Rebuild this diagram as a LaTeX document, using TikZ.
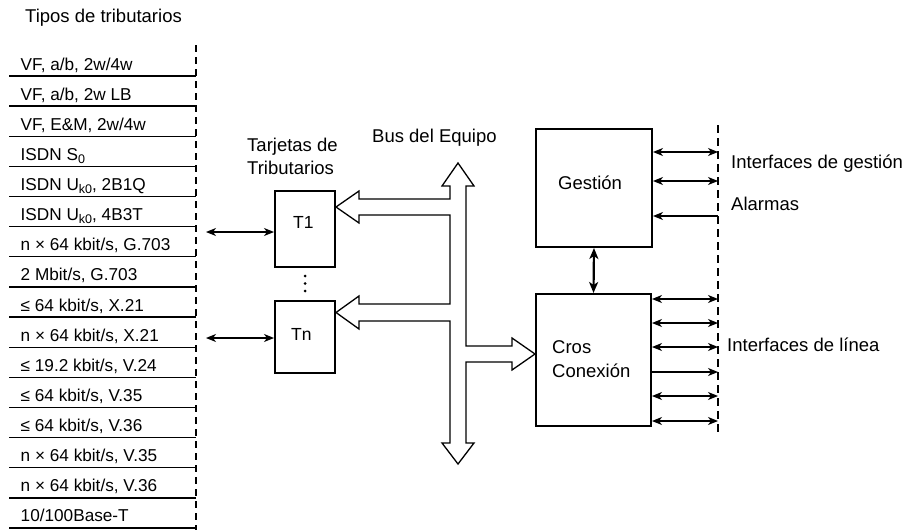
\documentclass[tikz,border=0pt]{standalone}
\usepackage{fontspec}
\setmainfont{Liberation Sans}
\usetikzlibrary{arrows.meta}
\newcommand{\mysubs}[1]{\raisebox{-3.2pt}{\fontsize{12.5}{12}\selectfont #1}}
\begin{document}
\begin{tikzpicture}[x=1pt,y=-1pt,
  row/.style={anchor=base west, inner sep=0pt, font=\fontsize{17.2}{19}\selectfont},
  lbl/.style={anchor=base west, inner sep=0pt, font=\fontsize{18.5}{22}\selectfont},
  boxn/.style={draw, line width=2pt, inner sep=0pt, fill=white},
  sepline/.style={line width=1.3pt},
  dashv/.style={line width=1.3pt, dash pattern=on 7pt off 5pt},
  conn/.style={line width=1.2pt, {Stealth[length=10pt,width=8pt,inset=3pt]}-{Stealth[length=10pt,width=8pt,inset=3pt]}},
  connr/.style={line width=1.2pt, -{Stealth[length=10pt,width=8pt,inset=3pt]}},
  thickconn/.style={line width=2.2pt, {Stealth[length=11pt,width=9pt,inset=3pt]}-{Stealth[length=11pt,width=9pt,inset=3pt]}},
  busline/.style={line width=1.3pt, fill=white, line join=miter}
]
\useasboundingbox (0,0) rectangle (911,530);
\fill[white] (0,0) rectangle (911,530);

% title
\node[lbl] (title) at (25,22) {Tipos de tributarios};

% left list
\coordinate (dltop) at (196,45);
\coordinate (dlbot) at (196,530);
\draw[dashv] (dltop) -- (dlbot);
\foreach \i/\t in {0/{VF, a/b, 2w/4w},
                   1/{VF, a/b, 2w LB},
                   2/{VF, E\&M, 2w/4w},
                   3/{ISDN S\mysubs{0}},
                   4/{ISDN U\mysubs{k0}, 2B1Q},
                   5/{ISDN U\mysubs{k0}, 4B3T},
                   6/{n × 64 kbit/s, G.703},
                   7/{2 Mbit/s, G.703},
                   8/{≤ 64 kbit/s, X.21},
                   9/{n × 64 kbit/s, X.21},
                   10/{≤ 19.2 kbit/s, V.24},
                   11/{≤ 64 kbit/s, V.35},
                   12/{≤ 64 kbit/s, V.36},
                   13/{n × 64 kbit/s, V.35},
                   14/{n × 64 kbit/s, V.36},
                   15/{10/100Base-T}}{
  \pgfmathsetmacro{\yy}{76+30.133*\i}
  \node[row] (r\i) at (20.5,\yy-6) {\t};
  \coordinate (ls\i) at (9,\yy);
  \draw[sepline] (ls\i) -- (ls\i -| dltop);
}

% tributary cards
\node[lbl] (tar1) at (247,151) {Tarjetas de};
\node[lbl] (tar2) at (247,174) {Tributarios};
\node[boxn, minimum width=60pt, minimum height=76pt] (T1) at (305,229) {};
\node[boxn, minimum width=60pt, minimum height=72pt] (Tn) at (305,337) {};
\node[lbl, font=\fontsize{17.5}{20}\selectfont] (t1l) at (293,228) {T1};
\node[lbl, font=\fontsize{17.5}{20}\selectfont] (tnl) at (291,340) {Tn};
\fill (305,276) circle (1.5pt) (305,283.5) circle (1.5pt) (305,291) circle (1.5pt);

\coordinate (a1) at (206,232);
\coordinate (an) at (206,338);
\draw[conn] (a1) -- (a1 -| T1.west);
\draw[conn] (an) -- (an -| Tn.west);

% bus
\node[lbl] (bus) at (372,142) {Bus del Equipo};
\draw[busline] (458,163) -- (442,186) -- (450,186) -- (450,199) -- (359,199) -- (359,191)
  -- (336,207) -- (359,223) -- (359,215) -- (450,215) -- (450,304) -- (359,304) -- (359,296)
  -- (336,312.5) -- (359,329) -- (359,321) -- (450,321) -- (450,443) -- (442,443) -- (458,464)
  -- (474,443) -- (466,443) -- (466,362) -- (512,362) -- (512,370) -- (535,354) -- (512,338)
  -- (512,346) -- (466,346) -- (466,186) -- (474,186) -- cycle;

% management and cross-connect
\node[boxn, minimum width=116pt, minimum height=118pt] (G) at (594,188) {};
\node[boxn, minimum width=115pt, minimum height=132pt] (C) at (593.5,360) {};
\node[lbl] (gl) at (558,189) {Gestión};
\node[lbl] (cl1) at (552,353) {Cros};
\node[lbl] (cl2) at (552,377) {Conexión};
\draw[thickconn] (G.south) -- (C.north);

\coordinate (drtop) at (718,125);
\coordinate (drbot) at (718,436);
\draw[dashv, dash pattern=on 8pt off 5pt] (drtop) -- (drbot);

\coordinate (g1) at (718,152);
\coordinate (g2) at (718,181);
\coordinate (g3) at (718,216);
\draw[conn] (g1 -| G.east) -- (g1);
\draw[conn] (g2 -| G.east) -- (g2);
\draw[connr] (g3) -- (g3 -| G.east);

\foreach \y/\k in {299/1,323/2,347/3,396/5,421/6}{
  \coordinate (c\k) at (718,\y);
  \draw[conn] (c\k -| C.east) -- (c\k);
}
\coordinate (c4) at (718,372);
\draw[connr] (c4 -| C.east) -- (c4);

\node[lbl] (ig) at (731,168) {Interfaces de gestión};
\node[lbl] (al) at (731,210) {Alarmas};
\node[lbl] (il) at (727,351) {Interfaces de línea};
\end{tikzpicture}
\end{document}
